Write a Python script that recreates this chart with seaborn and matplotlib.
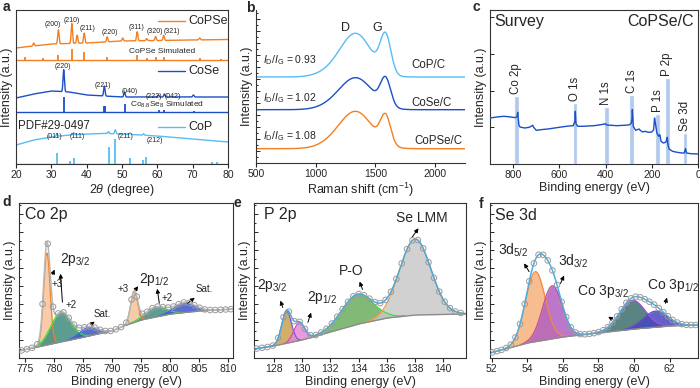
import numpy as np
import matplotlib
matplotlib.use("Agg")
import matplotlib.pyplot as plt
import seaborn as sns
from matplotlib.ticker import MultipleLocator, AutoMinorLocator

sns.set_style("ticks")
plt.rcParams['font.family'] = ['Liberation Sans', 'DejaVu Sans']
plt.rcParams['mathtext.fontset'] = 'custom'
plt.rcParams['mathtext.rm'] = 'Liberation Sans'
plt.rcParams['mathtext.it'] = 'Liberation Sans:italic'
plt.rcParams['mathtext.bf'] = 'Liberation Sans:bold'

ORANGE = '#f47f20'
BLUE = '#1a4fc8'
LIGHT = '#56bdf5'

# ---------------- a: XRD ----------------
copse_bg_x = [20, 25, 30, 40, 50, 60, 80]
copse_bg_y = [116, 118, 120, 121, 123, 123.5, 124.5]
copse_pk = [25, 32.0, 35.8, 37.3, 39.3, 45.8, 50.2, 54.3, 57.0, 59.5, 61.8, 72.0]
copse_h = [3, 14, 20, 8, 10, 5, 3, 9, 2, 4, 5, 2]
copse_sim_pk = [22.5, 27.5, 32.0, 35.8, 39.3, 45.8, 54.3, 57.0, 59.5, 61.8, 72.0, 78.0]
copse_sim_h = [2.7, 1.7, 5, 11, 7.7, 2.7, 5, 2, 3, 3, 2, 1.5]

cose_bg_x = [20, 25, 30, 35, 40, 50, 60, 80]
cose_bg_y = [66, 70, 73, 72, 69, 67, 67, 67]
cose_pk = [33.5, 45.0, 50.7, 60.3, 62.0, 70.2]
cose_h = [22, 10, 5, 2, 3, 2]
cose_sim_pk = [33.5, 44.8, 45.2, 50.8, 60.5, 62.0, 70.3]
cose_sim_h = [15, 6, 6, 8.5, 2, 2, 1.5]

cop_bg_x = [20, 25, 30, 35, 40, 45, 50, 60, 70, 80]
cop_bg_y = [19, 24, 27, 29, 30, 30.5, 30, 28, 25, 22]
cop_pk = [31.6, 36.3, 46.2, 48.1, 52.3, 56.1]
cop_h = [3, 2, 2, 4, 1.5, 1.5]
cop_pdf_pk = [31.6, 35.3, 36.3, 46.2, 48.1, 52.3, 56.0, 56.8, 75.5, 77.0]
cop_pdf_h = [11, 3, 6, 17, 25, 6, 4, 7, 2, 2]

copse_hkl = ['(200)', '(210)', '(211)', '(220)', '(311)', '(320)', '(321)']
cose_hkl = ['(220)', '(221)', '(040)', '(222)', '(042)']
cop_hkl = ['(011)', '(111)', '(211)', '(212)']

# ---------------- b: Raman ----------------
raman_centers = [1150, 1340, 1585]
raman_fwhm = {'CoP/C': [300, 300, 105], 'CoSe/C': [300, 320, 100], 'CoPSe/C': [300, 320, 100]}
raman_heights = {'CoP/C': [5, 42, 38], 'CoSe/C': [3, 31, 27], 'CoPSe/C': [4, 36, 28]}
raman_base = {'CoP/C': 86, 'CoSe/C': 53.3, 'CoPSe/C': 14.3}
raman_ratio = {'CoP/C': '0.93', 'CoSe/C': '1.02', 'CoPSe/C': '1.08'}

# ---------------- c: XPS survey ----------------
survey_be = [900, 870, 840, 810, 790, 783, 780, 778, 775, 770, 750, 730, 715, 712, 700,
             680, 650, 600, 560, 540, 533, 531, 528, 520, 500, 450, 410, 400, 395, 350,
             300, 290, 286, 284, 280, 270, 255, 250, 240, 230, 215, 200, 192, 188, 184,
             178, 170, 165, 160, 150, 140, 135, 133, 130, 125, 110, 90, 70, 60, 56, 54,
             50, 30, 0]
survey_int = [46, 47, 47.7, 47, 46.3, 47.7, 51.7, 46, 39, 37, 36, 36.7, 38.7, 37, 33.7,
              34.3, 35, 36.7, 38, 38.3, 42.7, 52.7, 40.3, 37.7, 37.7, 38.3, 39.7, 40.3, 39, 38.3,
              39, 40.3, 44.3, 54.3, 37.7, 33.7, 35, 33.7, 32, 32.7, 31.7, 32, 34.3, 46, 40.3,
              31, 27.7, 29.3, 22.7, 21, 21.7, 24.3, 26.7, 19.3, 15, 12.7, 11.7, 11, 11, 13.7, 15.3,
              11, 10.3, 10]
survey_lines = ['Co 2p', 'O 1s', 'N 1s', 'C 1s', 'P 1s', 'P 2p', 'Se 3d']
survey_line_be = [786, 532, 396, 287, 175, 133, 57]
survey_line_h = [67.7, 61, 57, 69.3, 50.3, 86, 31]

# ---------------- d: Co 2p ----------------
d_bg_x = [774, 778, 782, 786, 790, 792, 795, 800, 805, 811]
d_bg_y = [7, 12, 17, 22, 27, 32, 38, 44, 47, 49]
d_centers = [778.8, 781.2, 786.0, 793.8, 797.5, 802.5]
d_heights = [92, 30, 9, 31, 10, 10]
d_fwhm = [1.3, 4.0, 3.5, 1.4, 4.0, 4.0]
d_kind = ['+3', '+2', 'sat', '+3', '+2', 'sat']

# ---------------- e: P 2p ----------------
e_bg_x = [126.6, 128, 130, 132, 134, 136, 138, 141.6]
e_bg_y = [9, 12, 18, 26, 34, 40, 43, 44]
e_centers = [128.9, 129.8, 133.9, 138.0]
e_heights = [32, 18, 30, 76]
e_fwhm = [0.8, 0.9, 2.6, 2.6]

# ---------------- f: Se 3d ----------------
f_bg_x = [51.9, 53, 54, 56, 58, 60, 62, 63.6]
f_bg_y = [5, 10, 15, 21, 25, 29, 32, 33]
f_centers = [54.45, 55.4, 59.9, 61.2]
f_heights = [70, 53, 29, 16]
f_fwhm = [1.3, 1.3, 1.7, 1.6]


def gauss(x, c, h, w):
    return h * np.exp(-4 * np.log(2) * ((x - c) / w) ** 2)


def peaks_sum(x, centers, heights, widths):
    y = np.zeros_like(x)
    for c, h, w in zip(centers, heights, widths):
        y += gauss(x, c, h, w)
    return y


def rect(l, r, t, b):
    return [l / 700, 1 - b / 388, (r - l) / 700, (b - t) / 388]


def style_axes(ax, yticks=True):
    for s in ax.spines.values():
        s.set_linewidth(0.8)
        s.set_color('#333333')
    ax.tick_params(axis='x', direction='out', length=3, width=0.8, labelsize=7.5, pad=1.5)
    if yticks:
        ax.yaxis.set_major_locator(MultipleLocator(18))
        ax.yaxis.set_minor_locator(AutoMinorLocator(2))
        ax.tick_params(axis='y', which='both', direction='in', labelleft=False, width=0.7)
        ax.tick_params(axis='y', which='major', length=3)
        ax.tick_params(axis='y', which='minor', length=1.5)
    else:
        ax.set_yticks([])
    ax.set_ylabel("Intensity (a.u.)", fontsize=9, labelpad=2)


fig = plt.figure(figsize=(7, 3.88), dpi=100)

# ================= a =================
ax = fig.add_axes(rect(16, 228, 10, 164))
x = np.linspace(20, 80, 3000)
curves = [
    (copse_bg_x, copse_bg_y, copse_pk, copse_h, ORANGE),
    (cose_bg_x, cose_bg_y, cose_pk, cose_h, BLUE),
    (cop_bg_x, cop_bg_y, cop_pk, cop_h, LIGHT),
]
for bx, by, pk, h, col in curves:
    y = np.interp(x, bx, by) + peaks_sum(x, pk, h, [0.45] * len(pk))
    sns.lineplot(x=x, y=y, ax=ax, color=col, lw=1)
sticks = [(copse_sim_pk, copse_sim_h, 104, ORANGE), (cose_sim_pk, cose_sim_h, 52, BLUE),
          (cop_pdf_pk, cop_pdf_h, 0, LIGHT)]
for pk, h, base, col in sticks:
    ax.vlines(pk, base, base + np.array(h), color=col, lw=1.3)
    ax.axhline(base, color=col, lw=1)
ax.set_xlim(20, 80)
ax.set_ylim(0, 154)
ax.set_xticks([20, 30, 40, 50, 60, 70, 80])
style_axes(ax, yticks=False)
ax.set_xlabel(r"2$\theta$ (degree)", fontsize=9, labelpad=1)
for lab, xx, yy in zip(copse_hkl, [30.4, 35.9, 40.2, 46.6, 54.2, 59.3, 64.0],
                       [140, 143.3, 135.7, 131.3, 136.7, 132.3, 132.3]):
    ax.text(xx, yy, lab, fontsize=5, ha='center', va='center')
for lab, xx, yy in zip(cose_hkl, [33.4, 44.5, 52.3, 58.9, 64.3], [97.3, 79, 73, 67.3, 67.3]):
    ax.text(xx, yy, lab, fontsize=5, ha='center', va='center')
for lab, xx, yy in zip(cop_hkl, [31.0, 37.2, 50.9, 59.3], [27.3, 27.3, 28, 24]):
    ax.text(xx, yy, lab, fontsize=5, ha='center', va='center')
ax.text(61.3, 112.3, "CoPSe Simulated", fontsize=6, ha='center', va='center')
ax.text(62.8, 58.7, r"Co$_{8.8}$Se$_8$ Simulated", fontsize=6, ha='center', va='center')
ax.text(20.7, 38, "PDF#29-0497", fontsize=8.3, ha='left', va='center')
for lab, col, yy in [("CoPSe", ORANGE, 143), ("CoSe", BLUE, 93), ("CoP", LIGHT, 37.3)]:
    ax.plot([0.67, 0.797], [yy / 154] * 2, transform=ax.transAxes, color=col, lw=1)
    ax.text(0.815, yy / 154, lab, transform=ax.transAxes, fontsize=9, va='center')

# ================= b =================
ax = fig.add_axes(rect(256, 465, 10, 163))
x = np.linspace(500, 2250, 1500)
raman_colors = {'CoP/C': LIGHT, 'CoSe/C': BLUE, 'CoPSe/C': ORANGE}
for name in ['CoP/C', 'CoSe/C', 'CoPSe/C']:
    y = raman_base[name] + peaks_sum(x, raman_centers, raman_heights[name], raman_fwhm[name])
    sns.lineplot(x=x, y=y, ax=ax, color=raman_colors[name], lw=1)
ax.set_xlim(500, 2250)
ax.set_ylim(0, 153)
ax.set_xticks([500, 1000, 1500, 2000])
style_axes(ax)
ax.yaxis.set_major_locator(MultipleLocator(12))
sns.despine(ax=ax)
ax.set_xlabel(r"Raman shift (cm$^{-1}$)", fontsize=9, labelpad=1)
ax.text(1253, 135, "D", fontsize=9, ha='center', va='center')
ax.text(1516, 135, "G", fontsize=9, ha='center', va='center')
for name, yy, xr in [('CoP/C', 103, 1945), ('CoSe/C', 65, 1972), ('CoPSe/C', 26.7, 2028)]:
    ax.text(561, yy, r"$I_\mathrm{D}/I_\mathrm{G}$ = " + raman_ratio[name], fontsize=7.5,
            ha='left', va='center')
    ax.text(xr, yy - 5, name, fontsize=8.3, ha='center', va='center')

# ================= c =================
ax = fig.add_axes(rect(490, 698, 10, 164))
ax.bar(survey_line_be, survey_line_h, width=20, color='#a9c4ec', alpha=0.9, zorder=1)
sns.lineplot(x=survey_be, y=survey_int, ax=ax, color=BLUE, lw=1, zorder=3)
for lab, be, h in zip(survey_lines, survey_line_be, survey_line_h):
    ax.text(be, h + 2, lab, rotation=90, fontsize=8.3, ha='center', va='bottom')
ax.set_xlim(900, 0)
ax.set_ylim(0, 154)
ax.set_xticks([800, 600, 400, 200, 0])
style_axes(ax)
ax.yaxis.set_major_locator(MultipleLocator(36.7))
ax.yaxis.set_minor_locator(plt.NullLocator())
ax.set_xlabel("Binding energy (eV)", fontsize=9, labelpad=1)
ax.text(880, 142.7, "Survey", fontsize=11.5, ha='left', va='center')
ax.text(17, 142.7, "CoPSe/C", fontsize=11.5, ha='right', va='center')


# ================= XPS helper =================
def xps_panel(ax, xlim, bg_x, bg_y, centers, heights, widths, fills, edges, env_col, step):
    xs = np.linspace(xlim[0], xlim[1], 1200)
    base = np.interp(xs, bg_x, bg_y)
    for c, h, w, fc, ec in zip(centers, heights, widths, fills, edges):
        comp = gauss(xs, c, h, w)
        m = comp > 0.3
        ax.fill_between(xs[m], base[m], base[m] + comp[m], color=fc, alpha=0.85, lw=0)
        sns.lineplot(x=xs[m], y=base[m] + comp[m], ax=ax, color=ec, lw=0.9)
    sns.lineplot(x=xs, y=base, ax=ax, color='#8c8c8c', lw=1)
    env = base + peaks_sum(xs, centers, heights, widths)
    sns.lineplot(x=xs, y=env, ax=ax, color=env_col, lw=1.1)
    pts = np.arange(xlim[0] + step / 2, xlim[1], step)
    pts_y = np.interp(pts, bg_x, bg_y) + peaks_sum(pts, centers, heights, widths)
    sns.scatterplot(x=pts, y=pts_y, ax=ax, s=16, facecolor='none', edgecolor='#9a9a9a',
                    linewidth=0.7, zorder=5)
    ax.set_xlim(*xlim)
    ax.set_ylim(0, 155)
    style_axes(ax)
    ax.set_xlabel("Binding energy (eV)", fontsize=9, labelpad=1)


def arrow(ax, tail, head):
    ax.annotate('', xy=head, xytext=tail,
                arrowprops=dict(arrowstyle='-|>', color='black', lw=0.7, mutation_scale=6))


# ================= d =================
ax = fig.add_axes(rect(19, 233, 203, 358))
kind_fill = {'+3': '#f9c39a', '+2': '#3f8c7e', 'sat': '#3d55c8'}
kind_edge = {'+3': '#f08424', '+2': '#3ee03e', 'sat': '#3a5cff'}
xps_panel(ax, (774, 810.8), d_bg_x, d_bg_y, d_centers, d_heights, d_fwhm,
          [kind_fill[k] for k in d_kind], [kind_edge[k] for k in d_kind], '#b8b8b8', 0.9)
ax.set_xticks([775, 780, 785, 790, 795, 800, 805, 810])
ax.text(775.0, 143, "Co 2p", fontsize=11.5, ha='left', va='center')
ax.text(783.7, 98, r"2p$_{3/2}$", fontsize=10, ha='center', va='center')
ax.text(797.2, 78, r"2p$_{1/2}$", fontsize=10, ha='center', va='center')
ax.text(780.5, 74, "+3", fontsize=7, ha='center', va='center')
ax.text(782.9, 53, "+2", fontsize=7, ha='center', va='center')
ax.text(791.9, 69, "+3", fontsize=7, ha='center', va='center')
ax.text(799.5, 60, "+2", fontsize=7, ha='center', va='center')
ax.text(788.3, 44, "Sat.", fontsize=7, ha='center', va='center')
ax.text(805.9, 69, "Sat.", fontsize=7, ha='center', va='center')
arrow(ax, (779.6, 81), (780.3, 91))
arrow(ax, (781.5, 53), (781.1, 87))
arrow(ax, (786.0, 32), (787.4, 38))
arrow(ax, (794.0, 68), (794.8, 74))
arrow(ax, (798.2, 52), (797.7, 72))
arrow(ax, (802.6, 53), (804.6, 62))

# ================= e =================
ax = fig.add_axes(rect(254, 466, 203, 358))
xps_panel(ax, (126.6, 141.6), e_bg_x, e_bg_y, e_centers, e_heights, e_fwhm,
          ['#c8a24e', '#e68ad8', '#6aae5e', '#c9c9c9'],
          ['#7c5ce0', '#e040d0', '#3ee03e', '#f0a040'], '#48a8e0', 0.38)
ax.set_xticks([128, 130, 132, 134, 136, 138, 140])
ax.text(127.3, 143, "P 2p", fontsize=11.5, ha='left', va='center')
ax.text(127.9, 72, r"2p$_{3/2}$", fontsize=10, ha='center', va='center')
ax.text(131.4, 60, r"2p$_{1/2}$", fontsize=10, ha='center', va='center')
ax.text(133.5, 87, "P-O", fontsize=10, ha='center', va='center')
ax.text(138.5, 140, "Se LMM", fontsize=10, ha='center', va='center')
arrow(ax, (128.7, 48), (128.4, 60))
arrow(ax, (130.35, 33), (130.7, 48))
arrow(ax, (134.35, 66), (134.0, 79))
arrow(ax, (137.65, 118), (138.35, 132))

# ================= f =================
ax = fig.add_axes(rect(490, 698, 203, 358))
xps_panel(ax, (51.9, 63.6), f_bg_x, f_bg_y, f_centers, f_heights, f_fwhm,
          ['#f7b27a', '#b25fc0', '#3d6f6c', '#4646c0'],
          ['#f08a40', '#c04fa0', '#a050e0', '#6a40d0'], '#48b0e8', 0.26)
ax.set_xticks([52, 54, 56, 58, 60, 62])
ax.text(52.2, 143, "Se 3d", fontsize=11.5, ha='left', va='center')
ax.text(53.2, 108, r"3d$_{5/2}$", fontsize=10, ha='center', va='center')
ax.text(56.56, 97, r"3d$_{3/2}$", fontsize=10, ha='center', va='center')
ax.text(58.25, 66, r"Co 3p$_{3/2}$", fontsize=10, ha='center', va='center')
ax.text(62.2, 72, r"Co 3p$_{1/2}$", fontsize=10, ha='center', va='center')
arrow(ax, (54.18, 84), (53.74, 97))
arrow(ax, (55.8, 72), (56.13, 85))
arrow(ax, (58.9, 37), (58.43, 43))
arrow(ax, (61.72, 52), (61.9, 63))

# panel letters
for lab, px, py in [('a', 6, 7), ('b', 250, 8), ('c', 476, 7), ('d', 7, 202), ('e', 237, 203),
                    ('f', 481, 204)]:
    fig.text(px / 700, 1 - py / 388, lab, fontsize=10, fontweight='bold', ha='center', va='center')

fig.savefig("out.png", dpi=100)
